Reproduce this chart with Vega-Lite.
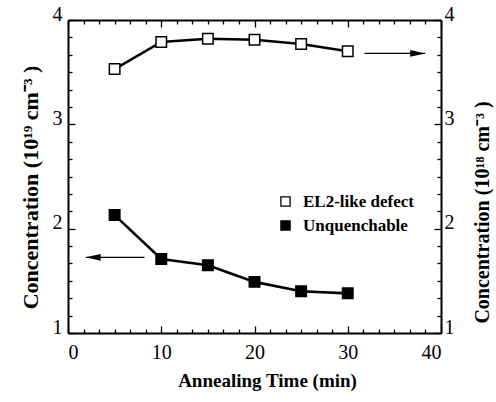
{
  "$schema": "https://vega.github.io/schema/vega-lite/v6.json",
  "autosize": "none",
  "width": 373,
  "height": 313,
  "padding": {"left": 68, "top": 20, "right": 55, "bottom": 69},
  "background": "white",
  "datasets": {
    "pts": [
      {"t": 5, "c": 3.53, "s": "EL2-like defect"},
      {"t": 10, "c": 3.79, "s": "EL2-like defect"},
      {"t": 15, "c": 3.82, "s": "EL2-like defect"},
      {"t": 20, "c": 3.81, "s": "EL2-like defect"},
      {"t": 25, "c": 3.77, "s": "EL2-like defect"},
      {"t": 30, "c": 3.70, "s": "EL2-like defect"},
      {"t": 5, "c": 2.13, "s": "Unquenchable"},
      {"t": 10, "c": 1.71, "s": "Unquenchable"},
      {"t": 15, "c": 1.65, "s": "Unquenchable"},
      {"t": 20, "c": 1.49, "s": "Unquenchable"},
      {"t": 25, "c": 1.40, "s": "Unquenchable"},
      {"t": 30, "c": 1.38, "s": "Unquenchable"}
    ],
    "arrows": [
      {"x1": 31.8, "x2": 38.3, "y": 3.68, "dir": "right"},
      {"x1": 8.2, "x2": 1.9, "y": 1.725, "dir": "left"}
    ]
  },
  "config": {
    "view": {"stroke": null},
    "axis": {
      "grid": false,
      "domainColor": "black",
      "domainWidth": 2,
      "tickColor": "black",
      "tickWidth": 1.3,
      "labelColor": "black",
      "labelFont": "Liberation Serif",
      "labelFontSize": 20,
      "titleColor": "black",
      "titleFont": "Liberation Serif",
      "titleFontWeight": "bold"
    }
  },
  "resolve": {
    "scale": {"x": "independent", "y": "independent"},
    "axis": {"x": "independent", "y": "independent"}
  },
  "layer": [
    {
      "data": {"name": "pts"},
      "mark": {"type": "line", "color": "black", "strokeWidth": 2.6},
      "encoding": {
        "x": {"field": "t", "type": "quantitative", "scale": {"domain": [0, 40], "nice": false},
          "axis": {"orient": "bottom", "values": [0, 10, 20, 30, 40], "tickSize": -7, "labelPadding": 16, "labelBaseline": "top",
            "title": "Annealing Time (min)", "titleFontSize": 19, "titlePadding": 9, "titleX": 199, "titleAlign": "center"}},
        "y": {"field": "c", "type": "quantitative", "scale": {"domain": [1, 4], "nice": false},
          "axis": {"orient": "left", "values": [1, 2, 3, 4], "tickSize": -7, "labelPadding": 13, "labelBaseline": "alphabetic",
            "title": "Concentration (10¹⁹ cm⁻³ )", "titleFontSize": 22, "titleAngle": 270, "titleX": -38, "titleY": 167, "titleBaseline": "middle", "titleAlign": "center"}},
        "detail": {"field": "s"}
      }
    },
    {
      "data": {"name": "pts"},
      "mark": {"type": "point", "shape": "square", "filled": true, "stroke": "black", "strokeWidth": 1.5, "size": 110, "opacity": 1},
      "encoding": {
        "x": {"field": "t", "type": "quantitative", "scale": {"domain": [0, 40], "nice": false},
          "axis": {"orient": "bottom", "values": [1.667, 3.333, 5, 6.667, 8.333, 11.667, 13.333, 15, 16.667, 18.333, 21.667, 23.333, 25, 26.667, 28.333, 31.667, 33.333, 35, 36.667, 38.333],
            "tickSize": -4, "labels": false, "domain": false, "title": null}},
        "y": {"field": "c", "type": "quantitative", "scale": {"domain": [1, 4], "nice": false},
          "axis": {"orient": "left", "values": [1.1667, 1.3333, 1.5, 1.6667, 1.8333, 2.1667, 2.3333, 2.5, 2.6667, 2.8333, 3.1667, 3.3333, 3.5, 3.6667, 3.8333],
            "tickSize": -4, "labels": false, "domain": false, "title": null}},
        "fill": {"field": "s", "type": "nominal", "scale": {"domain": ["EL2-like defect", "Unquenchable"], "range": ["white", "black"]},
          "legend": {"orient": "none", "legendX": 209, "legendY": 173, "title": null, "symbolType": "square", "symbolSize": 85,
            "symbolStrokeColor": "black", "symbolStrokeWidth": 1.3, "symbolOpacity": 1, "labelFont": "Liberation Serif", "labelFontWeight": "bold",
            "labelFontSize": 17, "labelColor": "black", "labelOffset": 9, "rowPadding": 6, "padding": 0}}
      }
    },
    {
      "data": {"name": "arrows"},
      "mark": {"type": "rule", "color": "black", "strokeWidth": 1.3},
      "encoding": {
        "x": {"field": "x1", "type": "quantitative", "scale": {"domain": [0, 40], "nice": false},
          "axis": {"orient": "top", "values": [0, 10, 20, 30, 40], "tickSize": -7, "labels": false, "title": null}},
        "x2": {"field": "x2"},
        "y": {"field": "y", "type": "quantitative", "scale": {"domain": [1, 4], "nice": false},
          "axis": {"orient": "right", "values": [1, 2, 3, 4], "tickSize": -7, "labelPadding": 10, "labelBaseline": "alphabetic",
            "title": "Concentration (10¹⁸ cm⁻³ )", "titleFontSize": 20, "titleAngle": 270, "titleX": 41, "titleY": 192, "titleBaseline": "middle", "titleAlign": "center"}}
      }
    },
    {
      "data": {"name": "arrows"},
      "mark": {"type": "point", "filled": true, "color": "black", "size": 56, "opacity": 1},
      "encoding": {
        "x": {"field": "x2", "type": "quantitative", "scale": {"domain": [0, 40], "nice": false},
          "axis": {"orient": "top", "values": [1.667, 3.333, 5, 6.667, 8.333, 11.667, 13.333, 15, 16.667, 18.333, 21.667, 23.333, 25, 26.667, 28.333, 31.667, 33.333, 35, 36.667, 38.333],
            "tickSize": -4, "labels": false, "domain": false, "title": null}},
        "y": {"field": "y", "type": "quantitative", "scale": {"domain": [1, 4], "nice": false},
          "axis": {"orient": "right", "values": [1.1667, 1.3333, 1.5, 1.6667, 1.8333, 2.1667, 2.3333, 2.5, 2.6667, 2.8333, 3.1667, 3.3333, 3.5, 3.6667, 3.8333],
            "tickSize": -4, "labels": false, "domain": false, "title": null}},
        "shape": {"field": "dir", "type": "nominal", "scale": {"domain": ["right", "left"], "range": ["M0,0L-4,-0.9L-4,0.9Z", "M0,0L4,-0.9L4,0.9Z"]}, "legend": null}
      }
    }
  ]
}
